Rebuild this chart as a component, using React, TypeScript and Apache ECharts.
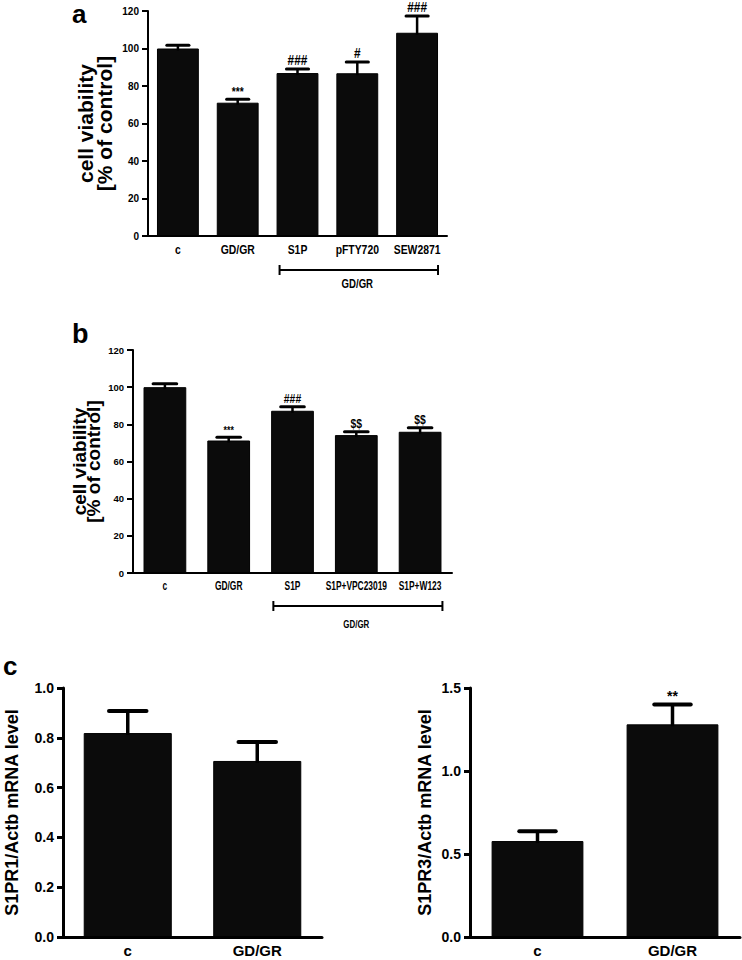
import React, { useEffect, useRef } from "react";
import * as echarts from "echarts";

// Panel a
const catsA = ["c", "GD/GR", "S1P", "pFTY720", "SEW2871"];
const meanA = [100, 71.1, 86.9, 86.8, 108.4];
const errA = [1.8, 1.8, 2.2, 6.0, 8.9];
const sigA = ["", "***", "###", "#", "###"];

// Panel b
const catsB = ["c", "GD/GR", "S1P", "S1P+VPC23019", "S1P+W123"];
const meanB = [100, 71.3, 87.3, 74.2, 76.0];
const errB = [1.8, 1.8, 2.2, 1.8, 2.1];
const sigB = ["", "***", "###", "$$", "$$"];

// Panel c
const catsC = ["c", "GD/GR"];
const meanC1 = [0.819, 0.707];
const errC1 = [0.089, 0.076];
const meanC2 = [0.578, 1.281];
const errC2 = [0.059, 0.119];
const sigC2 = ["", "**"];

const bracketLabel = "GD/GR";
const bracketRange = [2, 4];

const BOLD = "'Liberation Sans', Arial, sans-serif";

function errSeries(idx: number, means: number[], errs: number[], sigs: string[] | null, capRatio: number, lw: number, sigSize: number, sigScale: number) {
  return {
    type: "custom",
    xAxisIndex: idx,
    yAxisIndex: idx,
    clip: false,
    silent: true,
    z: 5,
    data: means.map((m, i) => [i, m, errs[i]]),
    encode: { x: 0, y: 1 },
    renderItem: (params: any, api: any) => {
      const i = api.value(0);
      const m = api.value(1);
      const e = api.value(2);
      const base = api.coord([i, m]);
      const top = api.coord([i, m + e]);
      const band = api.size([1, 0])[0];
      const half = (band * capRatio) / 2;
      const children: any[] = [
        { type: "line", shape: { x1: base[0], y1: base[1] + 2, x2: top[0], y2: top[1] }, style: { stroke: "#000", lineWidth: lw } },
        { type: "line", shape: { x1: top[0] - half, y1: top[1], x2: top[0] + half, y2: top[1] }, style: { stroke: "#000", lineWidth: lw + 0.5, lineCap: "round" } },
      ];
      const s = sigs ? sigs[params.dataIndex] : "";
      if (s) {
        children.push({
          type: "text",
          x: top[0],
          y: top[1] - 2,
          scaleX: sigScale,
          style: { text: s, fill: "#000", fontFamily: BOLD, fontWeight: "bold", fontSize: s.indexOf("*") >= 0 ? sigSize - 2 : sigSize, align: "center", verticalAlign: "bottom" },
        });
      }
      return { type: "group", children };
    },
  };
}

function catLabelSeries(idx: number, cats: string[], fontSize: number, scaleX: number, margin: number) {
  return {
    type: "custom",
    xAxisIndex: idx,
    yAxisIndex: idx,
    clip: false,
    silent: true,
    z: 5,
    data: cats.map((c, i) => [i, 0]),
    encode: { x: 0, y: 1 },
    renderItem: (params: any, api: any) => {
      const p = api.coord([api.value(0), 0]);
      return {
        type: "text",
        x: p[0],
        y: p[1] + margin,
        scaleX,
        style: { text: cats[params.dataIndex], fill: "#000", fontFamily: BOLD, fontWeight: "bold", fontSize, align: "center", verticalAlign: "top" },
      };
    },
  };
}

function bracketSeries(idx: number, drop: number, textDrop: number, fontSize: number, scaleX: number) {
  return {
    type: "custom",
    xAxisIndex: idx,
    yAxisIndex: idx,
    clip: false,
    silent: true,
    z: 5,
    data: [[bracketRange[0], 0, bracketRange[1]]],
    encode: { x: 0, y: 1 },
    renderItem: (params: any, api: any) => {
      const a = api.coord([api.value(0), 0]);
      const b = api.coord([api.value(2), 0]);
      const band = api.size([1, 0])[0];
      const x1 = a[0] - band * 0.3;
      const x2 = b[0] + band * 0.35;
      const y = a[1] + drop;
      const mid = api.coord([(api.value(0) + api.value(2)) / 2, 0]);
      return {
        type: "group",
        children: [
          { type: "line", shape: { x1, y1: y, x2, y2: y }, style: { stroke: "#000", lineWidth: 2 } },
          { type: "line", shape: { x1, y1: y - 5, x2: x1, y2: y + 5 }, style: { stroke: "#000", lineWidth: 2 } },
          { type: "line", shape: { x1: x2, y1: y - 5, x2, y2: y + 5 }, style: { stroke: "#000", lineWidth: 2 } },
          {
            type: "text",
            x: mid[0],
            y: a[1] + textDrop,
            scaleX,
            style: { text: bracketLabel, fill: "#000", fontFamily: BOLD, fontWeight: "bold", fontSize, align: "center", verticalAlign: "middle" },
          },
        ],
      };
    },
  };
}

function barSeries(idx: number, data: number[], width: string) {
  return {
    type: "bar",
    xAxisIndex: idx,
    yAxisIndex: idx,
    data,
    barWidth: width,
    itemStyle: { color: "#0b0b0b", borderColor: "#000", borderWidth: 1 },
    z: 2,
  };
}

function yAxisCfg(idx: number, min: number, max: number, interval: number, name: string, nameGap: number, labelSize: number, nameSize: number, lineHeight: number, axisW: number, fmt?: (v: number) => string) {
  return {
    type: "value",
    gridIndex: idx,
    min,
    max,
    interval,
    axisLine: { show: true, lineStyle: { color: "#000", width: axisW } },
    axisTick: { show: true, length: 6, lineStyle: { color: "#000", width: axisW } },
    splitLine: { show: false },
    axisLabel: { color: "#000", fontWeight: "bold", fontFamily: BOLD, fontSize: labelSize, margin: 9, formatter: fmt },
    name,
    nameLocation: "middle",
    nameRotate: 90,
    nameGap,
    nameTextStyle: { color: "#000", fontWeight: "bold", fontFamily: BOLD, fontSize: nameSize, lineHeight },
  };
}

function xAxisCfg(idx: number, cats: string[], showLabel: boolean, labelSize: number, axisW: number, margin: number) {
  return {
    type: "category",
    gridIndex: idx,
    data: cats,
    axisLine: { show: true, lineStyle: { color: "#000", width: axisW } },
    axisTick: { show: false },
    axisLabel: { show: showLabel, color: "#000", fontWeight: "bold", fontFamily: BOLD, fontSize: labelSize, margin, interval: 0 },
  };
}

export default function App() {
  const ref = useRef<HTMLDivElement>(null);
  useEffect(() => {
    if (!ref.current) return;
    const chart = echarts.init(ref.current, null, { renderer: "svg" });
    const grid = (left: number, top: number, width: number, height: number) => ({ left, top, width, height, containLabel: false, outerBoundsMode: "none" });
    chart.setOption({
      animation: false,
      backgroundColor: "#fff",
      grid: [grid(148, 11, 299, 225), grid(133, 350, 319, 223), grid(63, 688, 259, 249), grid(470, 688, 270, 249)],
      xAxis: [
        xAxisCfg(0, catsA, false, 12, 2, 9),
        xAxisCfg(1, catsB, false, 11, 2, 8),
        xAxisCfg(2, catsC, true, 15, 3, 6),
        xAxisCfg(3, catsC, true, 15, 3, 6),
      ],
      yAxis: [
        yAxisCfg(0, 0, 120, 20, "cell viability\n[% of control]", 34, 10, 21, 19, 2),
        yAxisCfg(1, 0, 120, 20, "cell viability\n[% of control]", 33, 9.5, 19, 14, 2),
        yAxisCfg(2, 0, 1, 0.2, "S1PR1/Actb mRNA level", 41, 14, 18, 20, 3, (v: number) => v.toFixed(1)),
        yAxisCfg(3, 0, 1.5, 0.5, "S1PR3/Actb mRNA level", 35, 14, 18, 20, 3, (v: number) => v.toFixed(1)),
      ],
      graphic: [
        { type: "text", left: 72, top: 1, style: { text: "a", fontSize: 26, fontWeight: "bold", fontFamily: BOLD, fill: "#000" } },
        { type: "text", left: 72, top: 320, style: { text: "b", fontSize: 27, fontWeight: "bold", fontFamily: BOLD, fill: "#000" } },
        { type: "text", left: 3, top: 653, style: { text: "c", fontSize: 26, fontWeight: "bold", fontFamily: BOLD, fill: "#000" } },
      ],
      series: [
        barSeries(0, meanA, "70%"),
        errSeries(0, meanA, errA, sigA, 0.37, 2.5, 14, 0.85),
        catLabelSeries(0, catsA, 13, 0.8, 7),
        bracketSeries(0, 34, 48, 12, 0.8),
        barSeries(1, meanB, "67%"),
        errSeries(1, meanB, errB, sigB, 0.37, 2.5, 13, 0.8),
        catLabelSeries(1, catsB, 12, 0.7, 7),
        bracketSeries(1, 33, 51, 11, 0.72),
        barSeries(2, meanC1, "68%"),
        errSeries(2, meanC1, errC1, null, 0.29, 3.5, 14, 1),
        barSeries(3, meanC2, "68%"),
        errSeries(3, meanC2, errC2, sigC2, 0.27, 3.5, 16, 1),
      ],
    });
    return () => chart.dispose();
  }, []);
  return <div ref={ref} style={{ position: "fixed", left: 0, top: 0, width: 742, height: 960, background: "#fff" }} />;
}
